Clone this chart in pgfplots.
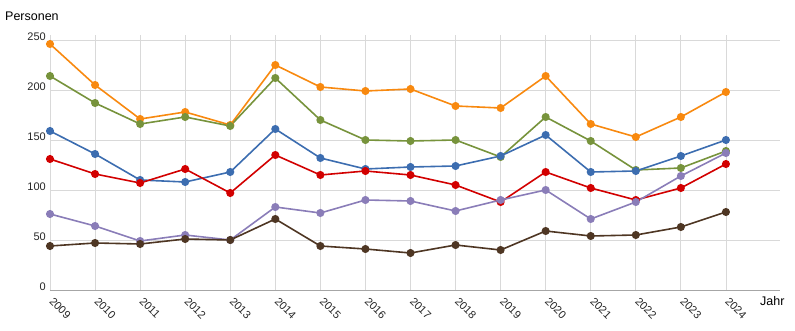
\documentclass[border=0pt]{standalone}
\usepackage{fontspec}
\setmainfont{Liberation Sans}
\usepackage{pgfplots}
\pgfplotsset{compat=1.18}
\definecolor{cOrange}{HTML}{F8890F}
\definecolor{cGreen}{HTML}{77933C}
\definecolor{cBlue}{HTML}{3C6DB0}
\definecolor{cRed}{HTML}{D20000}
\definecolor{cPurple}{HTML}{8A7DB8}
\definecolor{cBrown}{HTML}{4E3623}
\definecolor{gridc}{HTML}{D9D9D9}
\begin{document}
\begin{tikzpicture}
\path[use as bounding box] (-50pt,-41pt) rectangle (745pt,290pt);
\begin{axis}[
  at={(0pt,0pt)}, anchor=south west,
  scale only axis, width=730pt, height=255pt,
  xmin=2009, xmax=2025.2, ymin=0, ymax=255,
  xtick={2009,2010,2011,2012,2013,2014,2015,2016,2017,2018,2019,2020,2021,2022,2023,2024},
  xticklabels={2009,2010,2011,2012,2013,2014,2015,2016,2017,2018,2019,2020,2021,2022,2023,2024},
  ytick={0,50,100,150,200,250},
  yticklabels={0,50,100,150,200,250},
  axis line style={draw=none},
  major tick length=0pt,
  grid=major,
  major grid style={gridc, line width=0.8pt},
  ticklabel style={font=\fontsize{11}{13}\selectfont, text=black!85},
  yticklabel style={anchor=east, inner sep=0pt, xshift=-4pt, yshift=3pt},
  xticklabel style={rotate=-45, anchor=north west, inner sep=0pt, xshift=7.5pt, yshift=-1.5pt},
  every axis plot/.append style={line width=1.6pt, mark=*, mark size=3.2pt},
  clip=false,
]
\addplot[cOrange, mark options={fill=cOrange}] coordinates {
(2009,246)(2010,205)(2011,171)(2012,178)(2013,165)(2014,225)(2015,203)(2016,199)
(2017,201)(2018,184)(2019,182)(2020,214)(2021,166)(2022,153)(2023,173)(2024,198)};
\addplot[cGreen, mark options={fill=cGreen}] coordinates {
(2009,214)(2010,187)(2011,166)(2012,173)(2013,164)(2014,212)(2015,170)(2016,150)
(2017,149)(2018,150)(2019,133)(2020,173)(2021,149)(2022,120)(2023,122)(2024,139)};
\addplot[cBlue, mark options={fill=cBlue}] coordinates {
(2009,159)(2010,136)(2011,110)(2012,108)(2013,118)(2014,161)(2015,132)(2016,121)
(2017,123)(2018,124)(2019,134)(2020,155)(2021,118)(2022,119)(2023,134)(2024,150)};
\addplot[cRed, mark options={fill=cRed}] coordinates {
(2009,131)(2010,116)(2011,107)(2012,121)(2013,97)(2014,135)(2015,115)(2016,119)
(2017,115)(2018,105)(2019,88)(2020,118)(2021,102)(2022,90)(2023,102)(2024,126)};
\addplot[cPurple, mark options={fill=cPurple}] coordinates {
(2009,76)(2010,64)(2011,49)(2012,55)(2013,50)(2014,83)(2015,77)(2016,90)
(2017,89)(2018,79)(2019,90)(2020,100)(2021,71)(2022,88)(2023,114)(2024,137)};
\addplot[cBrown, mark options={fill=cBrown}] coordinates {
(2009,44)(2010,47)(2011,46)(2012,51)(2013,50)(2014,71)(2015,44)(2016,41)
(2017,37)(2018,45)(2019,40)(2020,59)(2021,54)(2022,55)(2023,63)(2024,78)};
\draw[black!35, line width=0.8pt] (axis cs:2009,0) -- (axis cs:2025.2,0);
\end{axis}
\node[anchor=west, inner sep=0pt, font=\fontsize{12.5}{14}\selectfont] at (-45pt,274pt) {Personen};
\node[anchor=west, inner sep=0pt, font=\fontsize{12.5}{14}\selectfont] at (710pt,-11pt) {Jahr};
\end{tikzpicture}
\end{document}
